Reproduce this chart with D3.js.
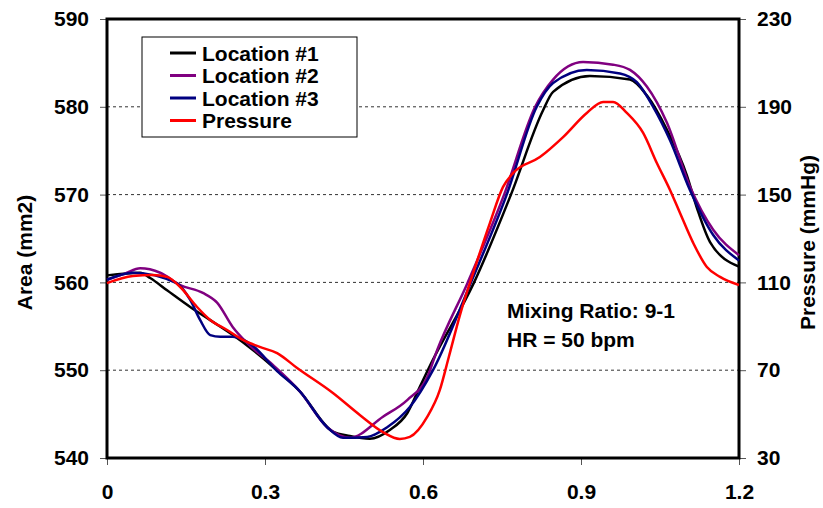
<!DOCTYPE html>
<html>
<head>
<meta charset="utf-8">
<script src="https://cdn.jsdelivr.net/npm/d3@7"></script>
<style>
  body { margin: 0; background: #fff; }
  text { font-family: "Liberation Sans", Arial, sans-serif; font-weight: bold; }
</style>
</head>
<body>
<svg id="chart" width="823" height="508"></svg>
<script>
// Data (time in s, area in mm2, pressure in mmHg)

var timeLoc1 = [0, 0.063, 0.082, 0.114, 0.158, 0.196, 0.239, 0.277, 0.315, 0.366, 0.429, 0.461, 0.499, 0.537, 0.570, 0.594, 0.619, 0.697, 0.767, 0.828, 0.847, 0.917, 0.993, 1.025, 1.063, 1.101, 1.120, 1.145, 1.200];
var areaLoc1 = [560.8, 561.1, 560.5, 559.1, 557.2, 555.7, 554.0, 552.3, 550.4, 547.6, 543.0, 542.5, 542.2, 543.2, 545.1, 548.1, 551.2, 560.0, 570.0, 579.6, 581.7, 583.5, 583.1, 581.3, 577.4, 572.2, 568.5, 564.6, 561.8];

var timeLoc2 = [0, 0.034, 0.063, 0.101, 0.139, 0.182, 0.209, 0.239, 0.266, 0.315, 0.366, 0.418, 0.461, 0.524, 0.570, 0.608, 0.627, 0.685, 0.754, 0.813, 0.847, 0.904, 0.961, 0.993, 1.025, 1.063, 1.107, 1.151, 1.200];
var areaLoc2 = [560.3, 561.0, 561.6, 561.1, 559.7, 558.8, 557.7, 554.9, 553.1, 550.6, 547.6, 543.5, 542.3, 544.7, 546.6, 549.2, 552.3, 560.0, 570.0, 580.0, 583.1, 585.1, 584.8, 584.2, 582.3, 578.2, 570.9, 566.0, 563.1];

var timeLoc3 = [0, 0.049, 0.133, 0.158, 0.177, 0.196, 0.215, 0.239, 0.272, 0.323, 0.366, 0.418, 0.448, 0.494, 0.532, 0.575, 0.619, 0.691, 0.759, 0.816, 0.847, 0.911, 0.974, 1.006, 1.037, 1.069, 1.107, 1.151, 1.200];
var areaLoc3 = [560.3, 561.1, 559.9, 558.0, 555.7, 554.0, 553.8, 553.8, 553.0, 549.9, 547.6, 543.5, 542.3, 542.4, 543.5, 545.8, 550.0, 560.0, 570.0, 580.0, 582.7, 584.2, 583.8, 582.8, 580.0, 576.2, 570.5, 565.4, 562.5];

var timePressure = [0, 0.049, 0.087, 0.114, 0.139, 0.171, 0.196, 0.228, 0.258, 0.290, 0.323, 0.361, 0.429, 0.480, 0.524, 0.556, 0.575, 0.608, 0.632, 0.649, 0.670, 0.699, 0.727, 0.752, 0.771, 0.822, 0.866, 0.911, 0.942, 0.961, 0.987, 1.018, 1.044, 1.069, 1.088, 1.113, 1.139, 1.164, 1.200];
var pressure = [109.7, 112.9, 113.4, 112.5, 107.9, 98.8, 92.9, 88.3, 83.8, 80.6, 77.8, 71.0, 59.6, 49.6, 41.8, 38.7, 39.6, 48.7, 61.0, 76.0, 95.0, 117.0, 137.0, 153.5, 159.8, 167.1, 176.2, 187.2, 192.2, 192.2, 187.2, 178.1, 164.4, 152.1, 141.6, 128.0, 117.0, 112.5, 108.8];

var xTicks = [0, 0.3, 0.6, 0.9, 1.2];
var areaTicks = [540, 550, 560, 570, 580, 590];
var pressureTicks = [30, 70, 110, 150, 190, 230];

var legendNames = ["Location #1", "Location #2", "Location #3", "Pressure"];
var noteLines = ["Mixing Ratio: 9-1", "HR = 50 bpm"];

// Layout
var svg = d3.select("#chart");
var margin = {top: 19, right: 84, bottom: 50, left: 107};
var width = +svg.attr("width") - margin.left - margin.right;
var height = +svg.attr("height") - margin.top - margin.bottom;

var colors = ["#000000", "#800080", "#000080", "#ff0000"];

var x = d3.scaleLinear().domain([0, 1.2]).range([0, width]);
var yArea = d3.scaleLinear().domain([540, 590]).range([height, 0]);
var yPress = d3.scaleLinear().domain([30, 230]).range([height, 0]);

var g = svg.append("g")
  .attr("transform", "translate(" + margin.left + "," + margin.top + ")");

// dashed grid lines
g.selectAll(".grid")
  .data(areaTicks.filter(function(d) { return d > 540 && d < 590; }))
  .enter().append("line")
  .attr("class", "grid")
  .attr("x1", 0).attr("x2", width)
  .attr("y1", function(d) { return yArea(d); })
  .attr("y2", function(d) { return yArea(d); })
  .attr("stroke", "#333")
  .attr("stroke-width", 1)
  .attr("stroke-dasharray", "3,3");

// axes
function styleAxis(sel) {
  sel.select(".domain").remove();
  sel.selectAll(".tick line").attr("stroke", "#555").attr("stroke-width", 1);
  sel.selectAll(".tick text")
    .attr("fill", "#000")
    .style("font-size", "21px")
    .style("font-family", "'Liberation Sans', Arial, sans-serif")
    .style("font-weight", "bold");
}

g.append("g")
  .call(d3.axisLeft(yArea).tickValues(areaTicks).tickSize(7).tickPadding(11))
  .call(styleAxis);

g.append("g")
  .attr("transform", "translate(" + width + ",0)")
  .call(d3.axisRight(yPress).tickValues(pressureTicks).tickSize(7).tickPadding(11))
  .call(styleAxis);

g.append("g")
  .attr("transform", "translate(0," + height + ")")
  .call(d3.axisBottom(x).tickValues(xTicks).tickSize(7).tickPadding(19)
    .tickFormat(function(d) { return d === 0 ? "0" : d3.format(".1f")(d); }))
  .call(styleAxis);

// frame
g.append("rect")
  .attr("x", 0).attr("y", 0)
  .attr("width", width).attr("height", height)
  .attr("fill", "none")
  .attr("stroke", "#000")
  .attr("stroke-width", 3);

// series
var areaSeries = [
  {t: timeLoc1, v: areaLoc1},
  {t: timeLoc2, v: areaLoc2},
  {t: timeLoc3, v: areaLoc3}
];

var areaLine = d3.line()
  .x(function(d) { return x(d[0]); })
  .y(function(d) { return yArea(d[1]); })
  .curve(d3.curveMonotoneX);

var pressLine = d3.line()
  .x(function(d) { return x(d[0]); })
  .y(function(d) { return yPress(d[1]); })
  .curve(d3.curveMonotoneX);

areaSeries.forEach(function(s, i) {
  g.append("path")
    .datum(d3.zip(s.t, s.v))
    .attr("fill", "none")
    .attr("stroke", colors[i])
    .attr("stroke-width", 2.5)
    .attr("d", areaLine);
});

g.append("path")
  .datum(d3.zip(timePressure, pressure))
  .attr("fill", "none")
  .attr("stroke", colors[3])
  .attr("stroke-width", 2.5)
  .attr("d", pressLine);

// legend
var legend = svg.append("g").attr("transform", "translate(142,37)");
legend.append("rect")
  .attr("width", 215).attr("height", 100)
  .attr("fill", "#fff")
  .attr("stroke", "#000")
  .attr("stroke-width", 1);

var items = legend.selectAll(".item")
  .data(legendNames)
  .enter().append("g")
  .attr("transform", function(d, i) { return "translate(0," + (16 + i * 22.5) + ")"; });

items.append("line")
  .attr("x1", 28).attr("x2", 54)
  .attr("stroke", function(d, i) { return colors[i]; })
  .attr("stroke-width", 3);

items.append("text")
  .attr("x", 60)
  .attr("dy", "0.36em")
  .style("font-size", "21px")
  .text(function(d) { return d; });

// note
svg.selectAll(".note")
  .data(noteLines)
  .enter().append("text")
  .attr("x", 507)
  .attr("y", function(d, i) { return 318 + i * 29; })
  .style("font-size", "21px")
  .text(function(d) { return d; });

// axis titles
svg.append("text")
  .attr("transform", "translate(24," + (margin.top + height / 2 + 14) + ") rotate(-90)")
  .attr("text-anchor", "middle")
  .attr("dy", "0.36em")
  .style("font-size", "21px")
  .text("Area (mm2)");

svg.append("text")
  .attr("transform", "translate(807," + (margin.top + height / 2 + 4) + ") rotate(-90)")
  .attr("text-anchor", "middle")
  .attr("dy", "0.36em")
  .style("font-size", "21px")
  .text("Pressure (mmHg)");
</script>
</body>
</html>
